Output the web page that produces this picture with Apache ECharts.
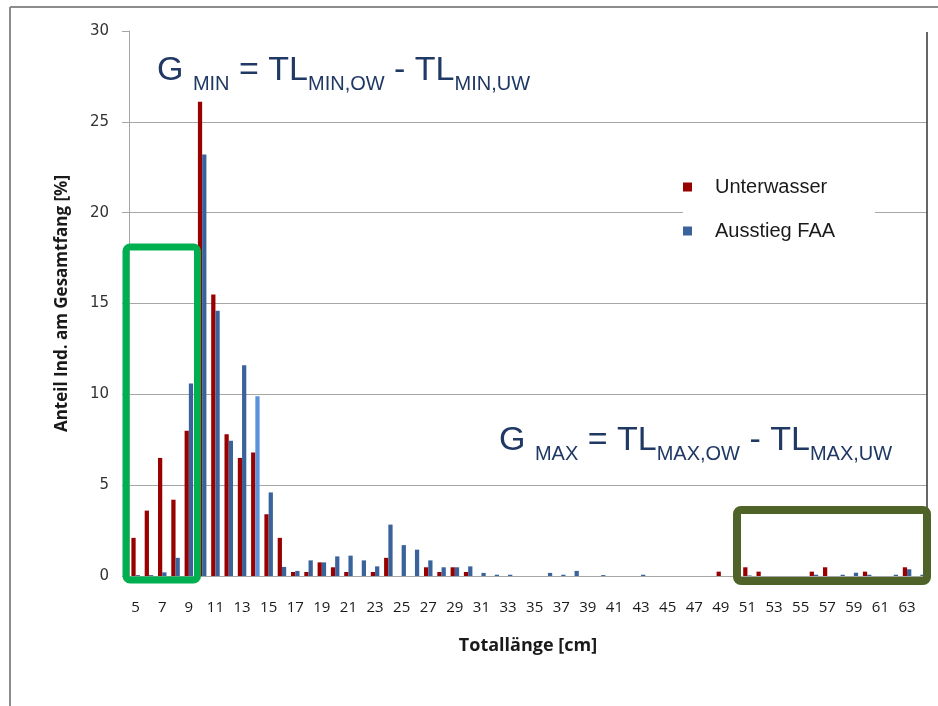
<!DOCTYPE html>
<html>
<head>
<meta charset="utf-8">
<script src="https://cdn.jsdelivr.net/npm/echarts@6/dist/echarts.min.js"></script>
<style>
html,body{margin:0;padding:0;background:#fff;}
#chart{width:938px;height:706px;}
</style>
</head>
<body>
<div id="chart"></div>
<script>
// Categories: total length in cm (5 .. 64)
const categories = [];
for (let c = 5; c <= 64; c++) categories.push(String(c));

// Share of individuals in total catch [%]
const unterwasser = [
  2.1, 3.6, 6.5, 4.2, 8.0, 26.1, 15.5, 7.8, 6.5, 6.8,   // 5-14
  3.4, 2.1, 0.22, 0.22, 0.75, 0.48, 0.22, 0, 0.22, 1.0,  // 15-24
  0, 0, 0.48, 0.22, 0.48, 0.22, 0, 0, 0, 0,             // 25-34
  0, 0, 0, 0, 0, 0, 0, 0, 0, 0,                          // 35-44
  0, 0, 0, 0, 0.24, 0, 0.48, 0.24, 0, 0,                 // 45-54
  0, 0.24, 0.48, 0, 0, 0.24, 0, 0, 0.48, 0               // 55-64
];
const ausstiegFAA = [
  0.05, 0.05, 0.2, 1.0, 10.6, 23.2, 14.6, 7.45, 11.6, 9.9, // 5-14
  4.6, 0.5, 0.28, 0.86, 0.75, 1.08, 1.12, 0.86, 0.53, 2.83, // 15-24
  1.7, 1.45, 0.86, 0.48, 0.48, 0.53, 0.17, 0.07, 0.07, 0,   // 25-34
  0, 0.17, 0.07, 0.28, 0, 0.05, 0, 0, 0.07, 0,              // 35-44
  0, 0, 0, 0, 0, 0, 0.03, 0, 0, 0,                          // 45-54
  0, 0.07, 0, 0.07, 0.18, 0.07, 0, 0.07, 0.37, 0.07         // 55-64
];
const seriesNames = ['Unterwasser', 'Ausstieg FAA'];
const yTicks = [0, 5, 10, 15, 20, 25, 30];

const RED = '#990000';
const BLUE = '#3A639C';
const BLUE_LIGHT = '#5B93DA';
const NAVY = '#1F3864';

const blueData = ausstiegFAA.map((v, i) =>
  categories[i] === '14' ? { value: v, itemStyle: { color: BLUE_LIGHT } } : v);

const mainF = 34, subF = 20;
const rich = {
  m: { fontFamily: 'Liberation Sans, Arial', fontSize: mainF, fill: NAVY, lineHeight: 40, verticalAlign: 'top' },
  s: { fontFamily: 'Liberation Sans, Arial', fontSize: subF, fill: NAVY, lineHeight: 14, verticalAlign: 'bottom' }
};

const chart = echarts.init(document.getElementById('chart'), null, { renderer: 'canvas' });
chart.setOption({
  animation: false,
  backgroundColor: '#ffffff',
  grid: { left: 129, right: 11, top: 31, bottom: 130 },
  legend: {
    data: seriesNames,
    orient: 'vertical',
    left: 683,
    top: 171,
    itemWidth: 9,
    itemHeight: 9,
    itemGap: 24,
    icon: 'rect',
    backgroundColor: '#ffffff',
    padding: [6, 40, 6, 0],
    textStyle: { fontFamily: 'Liberation Sans, Arial', fontSize: 20, color: '#1a1a1a', lineHeight: 20, padding: [0, 0, 0, 18] }
  },
  xAxis: {
    type: 'category',
    data: categories,
    name: 'Totallänge [cm]',
    nameLocation: 'middle',
    nameGap: 61,
    nameTextStyle: { fontFamily: 'Open Sans', fontWeight: 'bold', fontSize: 18, color: '#1a1a1a' },
    axisLine: { lineStyle: { color: '#A6A6A6', width: 1 } },
    axisTick: { interval: 0, length: 6, lineStyle: { color: '#A6A6A6' } },
    axisLabel: { interval: 1, margin: 24, fontFamily: 'Open Sans', fontSize: 15, color: '#1a1a1a' }
  },
  yAxis: {
    type: 'value',
    min: yTicks[0],
    max: yTicks[yTicks.length - 1],
    interval: 5,
    name: 'Anteil Ind. am Gesamtfang [%]',
    nameLocation: 'middle',
    nameRotate: 90,
    nameGap: 58,
    nameTextStyle: { fontFamily: 'Open Sans', fontWeight: 'bold', fontSize: 17, color: '#1a1a1a' },
    axisLine: { show: true, lineStyle: { color: '#A6A6A6', width: 1 } },
    axisTick: { show: true, length: 7, lineStyle: { color: '#A6A6A6' } },
    axisLabel: { margin: 20, fontFamily: 'DejaVu Sans', fontSize: 15, color: '#333333' },
    splitLine: { show: true, showMaxLine: false, lineStyle: { color: '#A6A6A6', width: 1 } }
  },
  series: [
    {
      name: seriesNames[0], type: 'bar', data: unterwasser,
      itemStyle: { color: RED },
      barGap: '0%', barCategoryGap: '36%'
    },
    {
      name: seriesNames[1], type: 'bar', data: blueData,
      itemStyle: { color: BLUE },
      barGap: '0%', barCategoryGap: '36%'
    }
  ],
  graphic: [
    // outer frame lines
    { type: 'line', shape: { x1: 10, y1: 7, x2: 938, y2: 7 }, style: { stroke: '#8C8C8C', lineWidth: 2 }, z: 10 },
    { type: 'line', shape: { x1: 10, y1: 7, x2: 10, y2: 706 }, style: { stroke: '#8C8C8C', lineWidth: 2 }, z: 10 },
    // right edge line of plot area
    { type: 'line', shape: { x1: 927, y1: 32, x2: 927, y2: 576 }, style: { stroke: '#333333', lineWidth: 1.5 }, z: 10 },
    // highlight boxes
    { type: 'rect', shape: { x: 126, y: 247, width: 71.5, height: 333, r: 4 }, style: { fill: null, stroke: '#00B050', lineWidth: 7 }, z: 20 },
    { type: 'rect', shape: { x: 737, y: 510, width: 190, height: 71, r: 4 }, style: { fill: null, stroke: '#4F6228', lineWidth: 8 }, z: 20 },
    // formulas
    { type: 'text', left: 157, top: 54, z: 20,
      style: { text: '{m|G }{s|MIN}{m| = TL}{s|MIN,OW}{m| - TL}{s|MIN,UW}', rich: rich, fill: NAVY } },
    { type: 'text', left: 499, top: 424, z: 20,
      style: { text: '{m|G }{s|MAX}{m| = TL}{s|MAX,OW}{m| - TL}{s|MAX,UW}', rich: rich, fill: NAVY } }
  ]
});
</script>
</body>
</html>
